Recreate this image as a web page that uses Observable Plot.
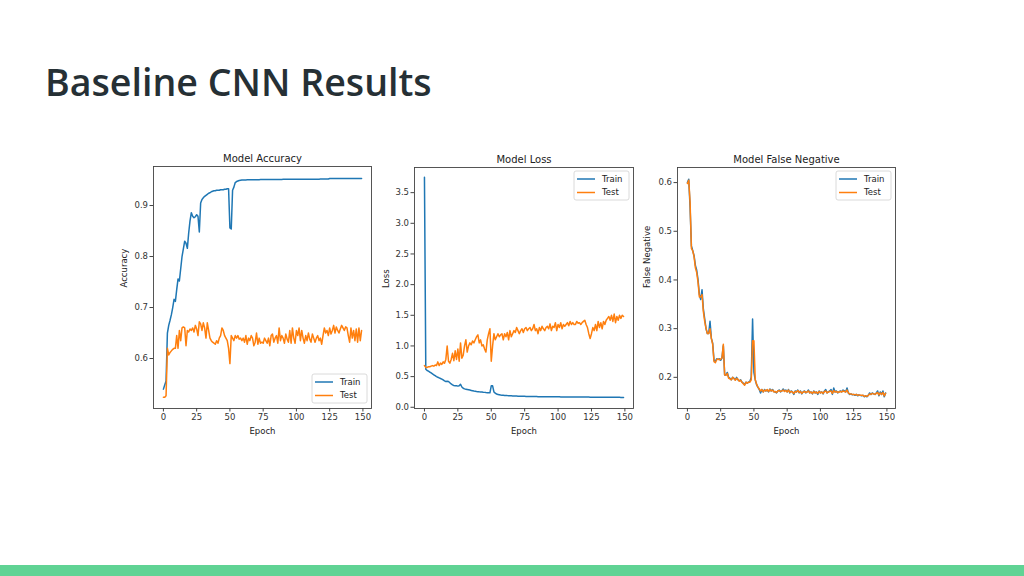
<!DOCTYPE html>
<html>
<head>
<meta charset="utf-8">
<script src="https://cdn.jsdelivr.net/npm/d3@7"></script>
<script src="https://cdn.jsdelivr.net/npm/@observablehq/plot@0.6"></script>
<style>
  html, body { margin: 0; padding: 0; background: #fff; }
  #page { position: relative; width: 1024px; height: 576px; overflow: hidden; background: #fff; }
  #title { position: absolute; left: 45px; top: 56px; font-family: "Open Sans", Lato, sans-serif; font-weight: 600; font-size: 37.6px; color: #263035; white-space: nowrap; }
  #bar { position: absolute; left: 0; top: 565px; width: 1024px; height: 11px; background: #60d394; }
  .panel { position: absolute; }
</style>
</head>
<body>
<div id="page">
  <div id="title">Baseline CNN Results</div>
  <div id="bar"></div>
</div>
<script>
// ---------- Data ----------
const xTicks = [0, 25, 50, 75, 100, 125, 150];
const seriesNames = ["Train", "Test"];

const accTrain = [
0.540,0.548,0.556,0.650,0.665,0.675,0.686,0.700,0.716,0.712,
0.735,0.756,0.752,0.776,0.800,0.815,0.830,0.826,0.816,0.846,
0.870,0.886,0.879,0.876,0.878,0.882,0.879,0.848,0.905,0.912,
0.915,0.918,0.920,0.922,0.924,0.925,0.927,0.928,0.929,0.929,
0.930,0.930,0.930,0.931,0.931,0.931,0.932,0.932,0.933,0.933,
0.856,0.854,0.930,0.936,0.945,0.947,0.948,0.949,0.9495,0.950,
0.950,0.950,0.9502,0.9503,0.9503,0.9504,0.9504,0.9505,0.9505,0.9506,
0.9506,0.9507,0.9507,0.9508,0.9508,0.9508,0.9509,0.9509,0.9509,0.951,
0.951,0.951,0.951,0.951,0.9511,0.9511,0.9512,0.9512,0.9512,0.9512,
0.9513,0.9513,0.9513,0.9513,0.9514,0.9514,0.9514,0.9514,0.9514,0.9515,
0.9515,0.9515,0.9515,0.9515,0.9515,0.9516,0.9516,0.9516,0.9516,0.9516,
0.9516,0.9517,0.9517,0.9517,0.9517,0.9517,0.9517,0.9517,0.9518,0.9518,
0.9518,0.9518,0.9518,0.9519,0.9519,0.953,0.953,0.953,0.953,0.953,
0.953,0.953,0.953,0.953,0.953,0.9531,0.9531,0.9531,0.9531,0.9531,
0.9531,0.9531,0.9532,0.9532,0.9532,0.9532,0.9532,0.9532,0.9532,0.9532
];
const accTest = [
0.524,0.524,0.527,0.620,0.607,0.612,0.615,0.618,0.620,0.620,
0.645,0.620,0.655,0.635,0.660,0.662,0.660,0.625,0.655,0.652,
0.658,0.655,0.660,0.652,0.665,0.658,0.645,0.672,0.668,0.655,
0.670,0.660,0.640,0.670,0.655,0.640,0.635,0.632,0.630,0.628,
0.635,0.630,0.640,0.645,0.660,0.655,0.645,0.640,0.635,0.620,
0.590,0.645,0.640,0.635,0.645,0.640,0.645,0.638,0.640,0.635,
0.640,0.632,0.645,0.628,0.640,0.635,0.645,0.640,0.625,0.632,
0.650,0.628,0.640,0.630,0.632,0.630,0.640,0.635,0.630,0.640,
0.625,0.645,0.648,0.632,0.640,0.645,0.630,0.660,0.635,0.645,
0.640,0.630,0.648,0.638,0.632,0.655,0.630,0.660,0.640,0.630,
0.655,0.645,0.660,0.635,0.655,0.640,0.630,0.645,0.635,0.650,
0.638,0.632,0.648,0.640,0.632,0.640,0.645,0.635,0.640,0.628,
0.645,0.660,0.650,0.655,0.645,0.660,0.648,0.655,0.665,0.650,
0.662,0.655,0.650,0.658,0.665,0.660,0.655,0.662,0.660,0.645,
0.632,0.660,0.640,0.655,0.635,0.658,0.632,0.660,0.635,0.655
];

const lossTrain = [
3.750,0.620,0.600,0.590,0.575,0.560,0.545,0.530,0.515,0.500,
0.490,0.480,0.470,0.460,0.445,0.430,0.420,0.425,0.420,0.400,
0.380,0.365,0.355,0.350,0.350,0.345,0.350,0.375,0.330,0.310,
0.300,0.295,0.290,0.285,0.280,0.275,0.270,0.265,0.262,0.258,
0.255,0.252,0.250,0.248,0.245,0.243,0.240,0.238,0.236,0.235,
0.350,0.350,0.250,0.230,0.215,0.210,0.205,0.200,0.197,0.195,
0.193,0.191,0.190,0.188,0.187,0.186,0.185,0.184,0.183,0.182,
0.181,0.180,0.180,0.179,0.178,0.178,0.177,0.177,0.176,0.176,
0.175,0.175,0.174,0.174,0.174,0.173,0.173,0.173,0.172,0.172,
0.172,0.172,0.171,0.171,0.171,0.171,0.170,0.170,0.170,0.170,
0.170,0.170,0.169,0.169,0.169,0.169,0.169,0.168,0.168,0.168,
0.168,0.168,0.168,0.167,0.167,0.167,0.167,0.167,0.167,0.166,
0.166,0.166,0.166,0.166,0.165,0.165,0.165,0.165,0.165,0.165,
0.164,0.164,0.164,0.164,0.164,0.164,0.163,0.163,0.163,0.163,
0.163,0.163,0.162,0.162,0.162,0.162,0.162,0.161,0.161,0.161
];
const lossTest = [
0.680,0.650,0.650,0.660,0.660,0.670,0.680,0.670,0.690,0.680,
0.740,0.680,0.720,0.700,0.740,0.720,0.780,1.000,0.750,0.720,
0.780,0.880,0.760,0.920,0.780,0.950,0.750,1.050,0.800,0.850,
1.000,1.100,0.900,1.000,1.050,1.020,1.080,1.050,1.100,1.150,
1.180,1.050,1.100,1.000,1.020,0.950,0.900,1.100,1.200,1.280,
0.750,1.000,1.200,1.100,1.150,1.200,1.150,1.180,1.200,1.100,
1.200,1.150,1.220,1.100,1.250,1.150,1.200,1.250,1.220,1.300,
1.250,1.200,1.250,1.280,1.220,1.280,1.300,1.250,1.280,1.300,
1.250,1.280,1.350,1.250,1.280,1.200,1.300,1.250,1.320,1.280,
1.250,1.300,1.320,1.280,1.360,1.250,1.320,1.300,1.380,1.250,
1.350,1.300,1.380,1.280,1.350,1.320,1.350,1.380,1.330,1.400,
1.350,1.380,1.350,1.350,1.400,1.370,1.380,1.350,1.380,1.400,
1.420,1.350,1.300,1.200,1.120,1.200,1.300,1.250,1.350,1.250,
1.400,1.300,1.380,1.280,1.400,1.350,1.420,1.450,1.480,1.420,
1.500,1.400,1.520,1.380,1.480,1.420,1.500,1.450,1.500,1.480
];

const fnTrain = [
0.600,0.607,0.550,0.470,0.460,0.450,0.430,0.420,0.400,0.370,
0.360,0.380,0.340,0.320,0.300,0.290,0.290,0.315,0.280,0.270,
0.235,0.233,0.238,0.237,0.238,0.235,0.240,0.265,0.205,0.205,
0.210,0.200,0.198,0.195,0.200,0.198,0.195,0.200,0.195,0.193,
0.195,0.190,0.188,0.185,0.190,0.188,0.190,0.192,0.200,0.320,
0.210,0.195,0.185,0.180,0.175,0.168,0.175,0.170,0.175,0.172,
0.174,0.170,0.176,0.172,0.175,0.171,0.170,0.168,0.172,0.174,
0.170,0.172,0.176,0.172,0.174,0.170,0.175,0.168,0.172,0.170,
0.165,0.172,0.170,0.174,0.168,0.172,0.166,0.170,0.172,0.168,
0.170,0.174,0.168,0.170,0.166,0.172,0.168,0.170,0.165,0.172,
0.168,0.170,0.166,0.172,0.175,0.168,0.170,0.172,0.175,0.165,
0.178,0.170,0.172,0.168,0.170,0.172,0.170,0.174,0.172,0.170,
0.178,0.168,0.165,0.166,0.164,0.165,0.163,0.165,0.162,0.164,
0.163,0.162,0.163,0.160,0.162,0.160,0.163,0.168,0.165,0.168,
0.166,0.165,0.168,0.172,0.162,0.170,0.165,0.172,0.160,0.168
];
const fnTest = [
0.598,0.605,0.560,0.465,0.460,0.448,0.425,0.415,0.395,0.365,
0.365,0.370,0.335,0.315,0.300,0.290,0.290,0.300,0.280,0.268,
0.232,0.230,0.236,0.238,0.236,0.237,0.240,0.268,0.205,0.204,
0.208,0.198,0.197,0.195,0.200,0.197,0.194,0.198,0.196,0.192,
0.194,0.190,0.187,0.184,0.190,0.188,0.190,0.190,0.195,0.275,
0.275,0.195,0.186,0.180,0.176,0.172,0.175,0.170,0.174,0.172,
0.175,0.171,0.175,0.172,0.174,0.170,0.171,0.169,0.172,0.173,
0.171,0.172,0.174,0.171,0.173,0.170,0.174,0.169,0.171,0.170,
0.167,0.171,0.170,0.173,0.169,0.171,0.167,0.170,0.171,0.169,
0.170,0.172,0.168,0.170,0.167,0.171,0.168,0.170,0.167,0.171,
0.168,0.170,0.167,0.171,0.172,0.168,0.170,0.171,0.172,0.167,
0.173,0.170,0.171,0.169,0.170,0.171,0.170,0.172,0.171,0.170,
0.174,0.168,0.166,0.166,0.165,0.165,0.164,0.165,0.163,0.164,
0.163,0.163,0.163,0.161,0.162,0.161,0.163,0.166,0.165,0.167,
0.166,0.165,0.167,0.169,0.164,0.168,0.165,0.169,0.162,0.167
];

// ---------- Drawing ----------
const COLORS = ["#1f77b4", "#ff7f0e"];
const FONT = "DejaVu Sans, sans-serif";

function toRows(values, name) {
  return values.map((v, i) => ({epoch: i, value: v, series: name}));
}

function panel(cfg) {
  const W = 270, H = 300;
  const m = cfg.margin;
  const rows = [...toRows(cfg.train, seriesNames[0]), ...toRows(cfg.test, seriesNames[1])];
  const svg = Plot.plot({
    width: W, height: H,
    marginLeft: m.left, marginRight: m.right, marginTop: m.top, marginBottom: m.bottom,
    style: {fontFamily: FONT, fontSize: "8.5px", color: "#333", background: "transparent"},
    x: {type: "linear", domain: [-7.45, 156.45], ticks: xTicks, label: null},
    y: {type: "linear", domain: cfg.yDomain, ticks: cfg.yTicks, tickFormat: d3.format(".1f"), label: null},
    color: {domain: seriesNames, range: COLORS},
    marks: [
      Plot.line(rows, {x: "epoch", y: "value", z: "series", stroke: "series", strokeWidth: 1.5, curve: "linear"}),
      Plot.frame({stroke: "#444", strokeWidth: 0.9}),
      Plot.axisX({ticks: xTicks, tickSize: 3.5, tickPadding: 2, stroke: "#444", label: null, fill: "#333"}),
      Plot.axisY({ticks: cfg.yTicks, tickSize: 3.5, tickPadding: 2, tickFormat: d3.format(".1f"), stroke: "#444", label: null, fill: "#333"}),
      Plot.text([cfg.title], {frameAnchor: "top", dy: -5, lineAnchor: "bottom", fontSize: 10, fill: "#222"}),
      Plot.text(["Epoch"], {frameAnchor: "bottom", dy: 23, lineAnchor: "middle", fontSize: 8.5, fill: "#222"}),
      Plot.text([cfg.ylabel], {frameAnchor: "left", dx: -cfg.ylabelOffset, rotate: -90, fontSize: 8.5, fill: "#222"})
    ]
  });
  svg.classList.add("panel");
  svg.style.left = cfg.left + "px";
  svg.style.top = cfg.top + "px";

  // legend (matplotlib-like)
  const fx1 = W - m.right, fy0 = m.top, fy1 = H - m.bottom;
  const bw = 55, bh = 29;
  const bx = fx1 - bw - 4;
  const by = cfg.legend === "lower right" ? fy1 - bh - 5 : fy0 + 4;
  const g = d3.select(svg).append("g").attr("font-family", FONT).attr("font-size", "8.5px").attr("text-anchor", "start");
  g.append("rect").attr("x", bx).attr("y", by).attr("width", bw).attr("height", bh)
    .attr("rx", 2).attr("fill", "#fff").attr("fill-opacity", 0.8).attr("stroke", "#d0d0d0").attr("stroke-width", 0.8);
  seriesNames.forEach((name, i) => {
    const yy = by + 8 + i * 13.5;
    g.append("line").attr("x1", bx + 3).attr("x2", bx + 21).attr("y1", yy).attr("y2", yy)
      .attr("stroke", COLORS[i]).attr("stroke-width", 1.5);
    g.append("text").attr("x", bx + 28).attr("y", yy).attr("dy", "0.35em").attr("fill", "#222")
      .style("text-anchor", "start").text(name);
  });
  document.getElementById("page").appendChild(svg);
}

panel({
  left: 110, top: 140, margin: {left: 43, right: 9, top: 26, bottom: 32},
  train: accTrain, test: accTest, yDomain: [0.502, 0.9765], yTicks: [0.6, 0.7, 0.8, 0.9],
  title: "Model Accuracy", ylabel: "Accuracy", ylabelOffset: 29, legend: "lower right"
});
panel({
  left: 375, top: 140, margin: {left: 39, right: 12, top: 27, bottom: 32},
  train: lossTrain, test: lossTest, yDomain: [-0.02, 3.91], yTicks: [0, 0.5, 1, 1.5, 2, 2.5, 3, 3.5],
  title: "Model Loss", ylabel: "Loss", ylabelOffset: 28, legend: "upper right"
});
panel({
  left: 635, top: 140, margin: {left: 42, right: 10, top: 27, bottom: 32},
  train: fnTrain, test: fnTest, yDomain: [0.136, 0.631], yTicks: [0.2, 0.3, 0.4, 0.5, 0.6],
  title: "Model False Negative", ylabel: "False Negative", ylabelOffset: 30, legend: "upper right"
});
</script>
</body>
</html>
